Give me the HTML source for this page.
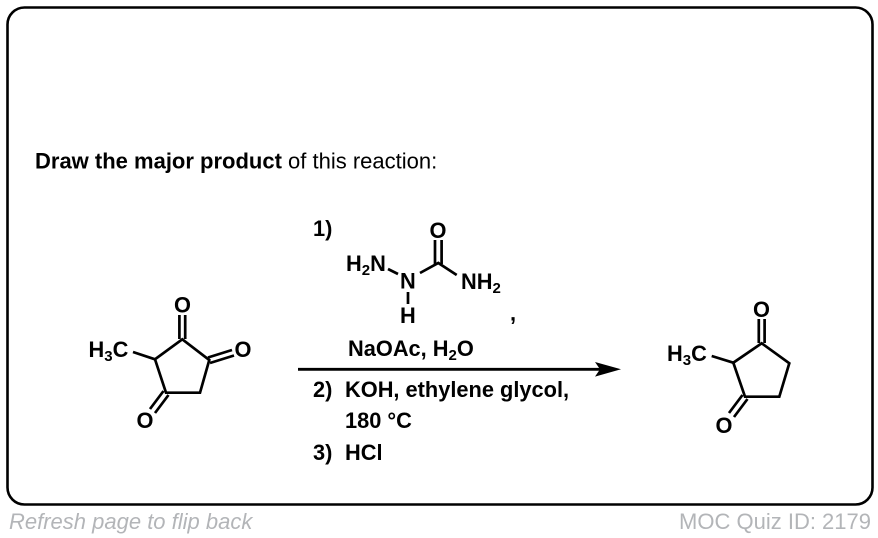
<!DOCTYPE html>
<html><head><meta charset="utf-8"><style>
html,body{margin:0;padding:0;background:#fff;width:878px;height:538px;overflow:hidden}
svg{display:block}
text{font-family:"Liberation Sans",Arial,sans-serif;fill:#000}
.b{font-weight:bold;font-size:21.8px}
.g{font-size:22px;fill:#b3b5b8}
.l{stroke:#000;stroke-width:2.7;fill:none;stroke-linecap:butt;stroke-linejoin:miter}
tspan.s{font-size:15px}
</style></head><body>
<svg width="878" height="538" viewBox="0 0 878 538" xmlns="http://www.w3.org/2000/svg">
<rect x="7.5" y="7.5" width="865" height="497" rx="17" fill="#fff" stroke="#000" stroke-width="2.6"/>
<text x="35" y="168.5" font-size="22"><tspan font-weight="bold">Draw the major product</tspan> of this reaction:</text>

<!-- left molecule -->
<path class="l" d="M182.3 339.3L209.3 360L200 392.7H166L155 359.3Z"/>
<path class="l" d="M155 359.3L133 352"/>
<path class="l" d="M179.4 339V315M185.2 339V315"/>
<path class="l" d="M208 357.5L232 350M210 363L234 355.5"/>
<path class="l" d="M163.5 391L150 409M168.5 395L155 413"/>
<text class="b" x="88.5" y="357">H<tspan class="s" dy="4">3</tspan><tspan dy="-4">C</tspan></text>
<text class="b" x="174" y="312.5">O</text>
<text class="b" x="234.5" y="357">O</text>
<text class="b" x="136.5" y="428">O</text>

<!-- semicarbazide -->
<text class="b" x="313" y="236">1)</text>
<text class="b" x="429.5" y="238">O</text>
<path class="l" d="M435 240V264M441.6 240V264"/>
<path class="l" d="M420 273L438.3 263L456.7 275"/>
<path class="l" d="M388 269L398 274"/>
<path class="l" d="M408 292V304"/>
<text class="b" x="346" y="271">H<tspan class="s" dy="4">2</tspan><tspan dy="-4">N</tspan></text>
<text class="b" x="400" y="288.5">N</text>
<text class="b" x="400" y="323">H</text>
<text class="b" x="461" y="289">NH<tspan class="s" dy="4">2</tspan></text>
<text class="b" x="510" y="320.5">,</text>

<!-- reagents + arrow -->
<text class="b" x="348" y="356">NaOAc, H<tspan class="s" dy="4">2</tspan><tspan dy="-4">O</tspan></text>
<path d="M298 369.3H600" stroke="#000" stroke-width="2.8"/>
<path d="M595 362L621 369.3L595 376.6L600 369.3Z" fill="#000"/>
<text class="b" x="313" y="397">2)</text>
<text class="b" x="345" y="397">KOH, ethylene glycol,</text>
<text class="b" x="345" y="428">180 °C</text>
<text class="b" x="313" y="460">3)</text>
<text class="b" x="345" y="460">HCl</text>

<!-- right molecule -->
<path class="l" d="M761.7 343.3L789.3 363.3L779.3 396.7H745L733.3 362.7Z"/>
<path class="l" d="M733.3 362.7L711.7 356"/>
<path class="l" d="M758.8 343V319M764.6 343V319"/>
<path class="l" d="M742.5 395L729 413M747.5 399L734 417"/>
<text class="b" x="667" y="361">H<tspan class="s" dy="4">3</tspan><tspan dy="-4">C</tspan></text>
<text class="b" x="753" y="317">O</text>
<text class="b" x="715.5" y="433">O</text>

<!-- footer -->
<text class="g" x="9" y="529" font-style="italic">Refresh page to flip back</text>
<text class="g" x="871" y="529" text-anchor="end">MOC Quiz ID: 2179</text>
</svg>
</body></html>
